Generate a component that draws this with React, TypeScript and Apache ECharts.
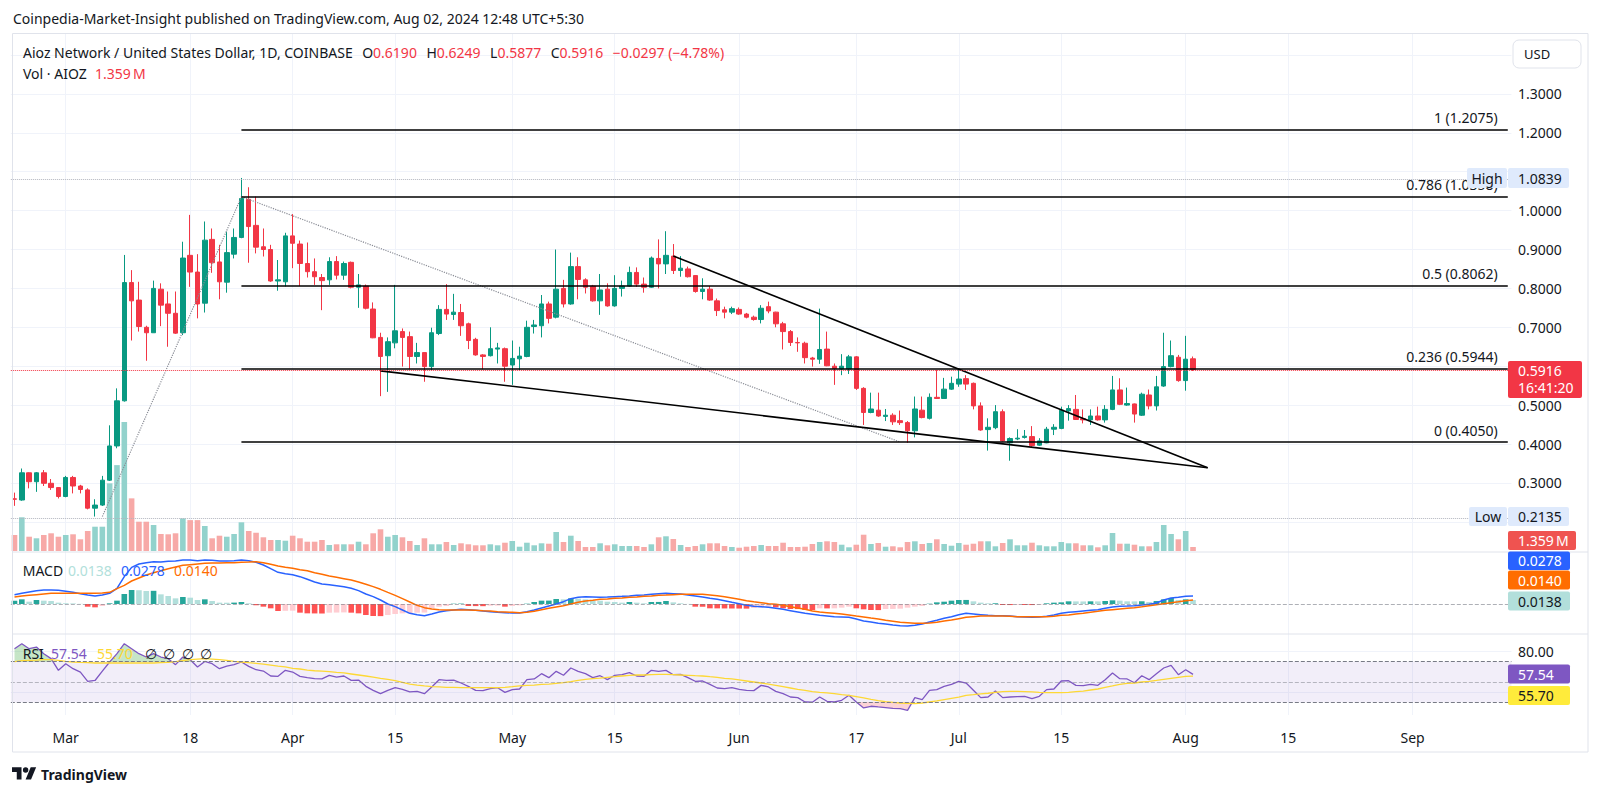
import React, { useEffect, useRef } from "react";
import * as echarts from "echarts";

const FONT = '"Noto Sans", "DejaVu Sans", sans-serif';
const INK = "#131722";
const UP = "#089981";
const DOWN = "#f23645";
const VOL_UP = "#92d2cc";
const VOL_DOWN = "#f7a9a7";

// ---------- time axis ----------
const START_UTC = Date.UTC(2024, 1, 23); // first candle: 2024-02-23
const N_SLOTS = 205; // visible day slots (candles + empty right margin)
const TICK_DATES = ["2024-03-01", "2024-03-18", "2024-04-01", "2024-04-15", "2024-05-01", "2024-05-15", "2024-06-01", "2024-06-17", "2024-07-01", "2024-07-15", "2024-08-01", "2024-08-15", "2024-09-01"];
const TICK_LABELS = ["Mar", "18", "Apr", "15", "May", "15", "Jun", "17", "Jul", "15", "Aug", "15", "Sep"];

// ---------- price data (AIOZ/USD daily) ----------
const OPEN = [0.259,0.256,0.326,0.303,0.326,0.299,0.288,0.265,0.314,0.292,
0.282,0.235,0.243,0.307,0.395,0.511,0.815,0.770,0.700,0.686,
0.798,0.760,0.736,0.686,0.885,0.842,0.762,0.926,0.868,0.816,
0.888,0.931,1.029,0.962,0.907,0.900,0.819,0.817,0.935,0.914,
0.864,0.843,0.828,0.822,0.869,0.834,0.867,0.803,0.806,0.747,
0.674,0.627,0.660,0.689,0.676,0.625,0.635,0.599,0.684,0.746,
0.733,0.738,0.709,0.669,0.629,0.627,0.644,0.645,0.603,0.619,
0.625,0.702,0.704,0.760,0.726,0.800,0.760,0.856,0.822,0.806,
0.768,0.798,0.755,0.800,0.806,0.841,0.811,0.803,0.877,0.863,
0.883,0.846,0.850,0.833,0.792,0.798,0.768,0.745,0.739,0.746,
0.734,0.726,0.720,0.753,0.739,0.709,0.689,0.661,0.659,0.621,
0.618,0.644,0.600,0.593,0.593,0.624,0.543,0.481,0.487,0.471,
0.474,0.460,0.455,0.434,0.487,0.466,0.520,0.517,0.541,0.554,
0.568,0.556,0.498,0.437,0.442,0.483,0.403,0.413,0.417,0.419,
0.397,0.403,0.438,0.440,0.485,0.489,0.465,0.462,0.472,0.462,
0.489,0.539,0.500,0.503,0.474,0.526,0.498,0.549,0.599,0.623,
0.563,0.6190];
const HIGH = [0.275,0.337,0.327,0.328,0.333,0.310,0.289,0.318,0.318,0.295,
0.286,0.258,0.318,0.448,0.543,0.886,0.847,0.817,0.704,0.820,
0.813,0.792,0.792,0.920,0.989,0.888,0.972,0.954,0.912,0.946,
0.954,1.0839,1.060,1.036,0.954,0.912,0.873,0.943,0.991,0.923,
0.918,0.877,0.837,0.880,0.883,0.869,0.869,0.837,0.810,0.764,
0.686,0.674,0.809,0.697,0.689,0.660,0.635,0.699,0.757,0.811,
0.786,0.760,0.712,0.673,0.631,0.700,0.660,0.648,0.666,0.650,
0.717,0.719,0.783,0.766,0.900,0.822,0.892,0.880,0.826,0.809,
0.837,0.813,0.834,0.820,0.856,0.854,0.828,0.882,0.926,0.947,
0.914,0.883,0.856,0.834,0.826,0.806,0.774,0.753,0.753,0.751,
0.737,0.730,0.757,0.766,0.740,0.714,0.693,0.674,0.663,0.624,
0.748,0.689,0.607,0.631,0.629,0.626,0.546,0.532,0.532,0.490,
0.479,0.486,0.459,0.522,0.522,0.530,0.590,0.570,0.573,0.594,
0.577,0.558,0.507,0.466,0.500,0.489,0.417,0.438,0.436,0.446,
0.415,0.444,0.451,0.496,0.500,0.526,0.489,0.489,0.496,0.500,
0.575,0.569,0.545,0.504,0.532,0.540,0.575,0.686,0.666,0.629,
0.678,0.6249];
const LOW = [0.241,0.254,0.286,0.277,0.292,0.282,0.260,0.263,0.273,0.273,
0.232,0.2135,0.2406,0.305,0.389,0.509,0.666,0.689,0.614,0.686,
0.703,0.650,0.683,0.680,0.804,0.723,0.738,0.840,0.772,0.789,
0.877,0.929,0.866,0.890,0.882,0.817,0.794,0.805,0.852,0.806,
0.828,0.809,0.744,0.809,0.823,0.822,0.800,0.750,0.746,0.672,
0.523,0.534,0.646,0.599,0.592,0.607,0.560,0.590,0.680,0.719,
0.719,0.678,0.644,0.627,0.592,0.625,0.607,0.560,0.552,0.590,
0.623,0.684,0.674,0.710,0.723,0.751,0.758,0.772,0.787,0.766,
0.732,0.753,0.753,0.779,0.804,0.804,0.789,0.801,0.800,0.837,
0.837,0.830,0.828,0.789,0.772,0.768,0.729,0.723,0.734,0.732,
0.723,0.717,0.710,0.736,0.700,0.643,0.652,0.637,0.607,0.599,
0.606,0.600,0.552,0.577,0.580,0.539,0.449,0.479,0.470,0.459,
0.449,0.449,0.403,0.417,0.466,0.463,0.516,0.516,0.539,0.547,
0.539,0.489,0.434,0.383,0.438,0.406,0.357,0.410,0.414,0.393,
0.395,0.402,0.423,0.438,0.460,0.462,0.453,0.449,0.460,0.455,
0.487,0.500,0.498,0.455,0.472,0.489,0.486,0.547,0.597,0.560,
0.537,0.5877];
const CLOSE = [0.258,0.326,0.303,0.326,0.299,0.288,0.265,0.314,0.292,0.283,
0.235,0.243,0.307,0.395,0.511,0.815,0.768,0.702,0.686,0.800,
0.757,0.736,0.685,0.878,0.842,0.760,0.924,0.866,0.817,0.892,
0.931,1.031,0.959,0.906,0.900,0.819,0.822,0.935,0.916,0.864,
0.843,0.830,0.820,0.869,0.834,0.864,0.803,0.809,0.749,0.673,
0.625,0.663,0.691,0.674,0.625,0.635,0.599,0.686,0.746,0.734,
0.739,0.704,0.666,0.629,0.625,0.645,0.647,0.600,0.620,0.626,
0.700,0.706,0.760,0.723,0.798,0.760,0.856,0.823,0.803,0.768,
0.796,0.755,0.800,0.806,0.841,0.811,0.803,0.878,0.863,0.885,
0.846,0.852,0.830,0.792,0.798,0.770,0.743,0.739,0.748,0.734,
0.726,0.720,0.749,0.742,0.709,0.689,0.661,0.660,0.622,0.618,
0.643,0.601,0.594,0.600,0.624,0.543,0.481,0.490,0.472,0.474,
0.457,0.455,0.434,0.490,0.468,0.520,0.517,0.541,0.556,0.567,
0.554,0.498,0.436,0.443,0.483,0.408,0.414,0.415,0.420,0.396,
0.408,0.438,0.443,0.487,0.491,0.463,0.462,0.472,0.462,0.489,
0.539,0.502,0.504,0.477,0.528,0.498,0.547,0.599,0.627,0.563,
0.618,0.5916];
// volume in millions of AIOZ
const VOLUME_M = [5.44,11.46,4.86,4.32,5.44,6.02,4.86,5.44,5.68,3.98,
6.80,8.26,8.26,23.0,29.2,43.9,17.9,9.96,9.96,8.84,
5.78,5.68,6.02,11.1,10.5,10.5,8.50,4.32,5.20,4.86,
5.78,9.76,6.80,6.22,4.66,3.74,3.74,3.50,5.20,4.32,
3.16,3.16,3.74,2.04,2.28,2.28,2.28,3.16,2.28,6.02,
7.38,4.86,5.44,4.66,3.40,2.04,4.32,2.28,2.28,3.06,
2.04,2.62,2.28,1.94,1.94,2.28,1.94,2.82,3.40,1.46,
2.82,1.94,2.62,2.48,6.46,3.06,5.20,3.40,1.36,1.36,
2.62,1.94,2.28,1.70,1.70,1.70,1.36,2.28,4.66,5.00,
4.08,2.04,1.36,1.70,2.28,2.62,2.62,1.70,1.36,1.12,
1.46,1.70,2.04,1.70,1.70,2.82,1.36,1.36,1.46,2.38,
3.06,3.30,3.06,2.14,1.26,2.14,5.54,2.38,2.72,1.46,
1.60,1.26,3.06,3.30,2.38,2.72,3.98,2.38,1.80,2.72,
2.14,2.48,3.30,3.30,1.60,2.72,3.98,1.94,1.94,2.82,
1.94,1.60,1.60,3.06,2.62,2.62,1.94,1.94,1.26,1.94,
6.12,2.48,2.48,2.14,1.60,1.60,3.06,8.84,5.78,3.98,
6.80,1.359];

// ---------- MACD (12, 26, 9) ----------
const MACD_LINE = [0.0322,0.0368,0.0414,0.0460,0.0483,0.0483,0.0471,0.0437,0.0402,0.0356,
0.0310,0.0276,0.0310,0.0368,0.0540,0.0943,0.1264,0.1379,0.1425,0.1460,
0.1448,0.1471,0.1483,0.1517,0.1517,0.1494,0.1517,0.1506,0.1483,0.1483,
0.1494,0.1517,0.1494,0.1437,0.1345,0.1218,0.1092,0.1046,0.1011,0.0943,
0.0851,0.0759,0.0690,0.0667,0.0632,0.0598,0.0540,0.0460,0.0345,0.0253,
0.0138,0.0000,-0.0092,-0.0207,-0.0322,-0.0368,-0.0402,-0.0345,-0.0276,-0.0230,
-0.0207,-0.0184,-0.0195,-0.0218,-0.0241,-0.0264,-0.0287,-0.0299,-0.0310,-0.0310,
-0.0264,-0.0207,-0.0138,-0.0069,0.0000,0.0080,0.0184,0.0230,0.0253,0.0241,
0.0230,0.0241,0.0253,0.0264,0.0276,0.0299,0.0310,0.0333,0.0356,0.0368,
0.0356,0.0345,0.0310,0.0276,0.0241,0.0195,0.0161,0.0115,0.0057,0.0011,
-0.0046,-0.0080,-0.0092,-0.0115,-0.0149,-0.0184,-0.0230,-0.0276,-0.0322,-0.0356,
-0.0391,-0.0414,-0.0437,-0.0448,-0.0460,-0.0517,-0.0586,-0.0621,-0.0667,-0.0690,
-0.0724,-0.0747,-0.0759,-0.0736,-0.0690,-0.0621,-0.0563,-0.0494,-0.0437,-0.0368,
-0.0322,-0.0345,-0.0368,-0.0391,-0.0402,-0.0402,-0.0414,-0.0437,-0.0448,-0.0460,
-0.0448,-0.0425,-0.0379,-0.0322,-0.0287,-0.0264,-0.0241,-0.0218,-0.0195,-0.0149,
-0.0103,-0.0080,-0.0069,-0.0057,-0.0034,-0.0011,0.0034,0.0138,0.0207,0.0230,
0.0264,0.0278];
const MACD_SIGNAL = [0.0241,0.0276,0.0299,0.0322,0.0345,0.0368,0.0368,0.0368,0.0368,0.0368,
0.0368,0.0368,0.0379,0.0402,0.0529,0.0644,0.0793,0.0897,0.1000,0.1080,
0.1149,0.1218,0.1276,0.1333,0.1356,0.1379,0.1402,0.1414,0.1414,0.1425,
0.1425,0.1437,0.1448,0.1460,0.1425,0.1368,0.1310,0.1264,0.1230,0.1184,
0.1149,0.1080,0.1023,0.0966,0.0920,0.0874,0.0828,0.0759,0.0678,0.0598,
0.0506,0.0402,0.0299,0.0184,0.0069,-0.0046,-0.0126,-0.0172,-0.0195,-0.0207,
-0.0207,-0.0207,-0.0207,-0.0218,-0.0230,-0.0241,-0.0264,-0.0276,-0.0287,-0.0299,
-0.0287,-0.0253,-0.0195,-0.0149,-0.0103,-0.0057,0.0000,0.0057,0.0103,0.0126,
0.0161,0.0172,0.0195,0.0207,0.0230,0.0241,0.0264,0.0276,0.0299,0.0310,
0.0322,0.0333,0.0333,0.0333,0.0333,0.0310,0.0287,0.0253,0.0207,0.0161,
0.0115,0.0080,0.0046,0.0011,-0.0011,-0.0046,-0.0092,-0.0138,-0.0184,-0.0241,
-0.0276,-0.0299,-0.0322,-0.0345,-0.0379,-0.0414,-0.0448,-0.0483,-0.0517,-0.0563,
-0.0598,-0.0632,-0.0644,-0.0667,-0.0667,-0.0655,-0.0632,-0.0586,-0.0552,-0.0506,
-0.0460,-0.0437,-0.0414,-0.0414,-0.0414,-0.0414,-0.0425,-0.0437,-0.0437,-0.0437,
-0.0437,-0.0437,-0.0425,-0.0391,-0.0379,-0.0345,-0.0322,-0.0287,-0.0253,-0.0218,
-0.0195,-0.0172,-0.0149,-0.0126,-0.0092,-0.0057,-0.0023,0.0011,0.0046,0.0080,
0.0115,0.0140];
const MACD_HIST = [0.0115,0.0161,0.0080,0.0138,0.0115,0.0103,0.0046,0.0023,0.0020,0.0005,
-0.0092,-0.0115,-0.0069,0.0023,0.0115,0.0345,0.0483,0.0475,0.0448,0.0455,
0.0333,0.0276,0.0195,0.0241,0.0218,0.0138,0.0161,0.0103,0.0046,0.0044,
0.0048,0.0069,0.0023,-0.0046,-0.0092,-0.0149,-0.0241,-0.0235,-0.0230,-0.0299,
-0.0322,-0.0325,-0.0328,-0.0299,-0.0295,-0.0290,-0.0299,-0.0322,-0.0379,-0.0414,
-0.0418,-0.0379,-0.0345,-0.0322,-0.0320,-0.0299,-0.0295,-0.0149,-0.0092,-0.0069,
0.0011,0.0015,-0.0069,-0.0072,-0.0075,-0.0057,-0.0055,-0.0092,-0.0069,-0.0046,
0.0011,0.0069,0.0115,0.0117,0.0172,0.0161,0.0195,0.0184,0.0161,0.0115,
0.0113,0.0080,0.0069,0.0046,0.0069,0.0046,0.0023,0.0069,0.0071,0.0103,
0.0057,0.0023,0.0003,-0.0092,-0.0095,-0.0149,-0.0151,-0.0153,-0.0155,-0.0157,
-0.0160,-0.0138,-0.0115,-0.0092,-0.0115,-0.0149,-0.0172,-0.0175,-0.0207,-0.0209,
-0.0149,-0.0152,-0.0149,-0.0126,-0.0092,-0.0149,-0.0184,-0.0207,-0.0210,-0.0172,
-0.0170,-0.0161,-0.0126,-0.0092,-0.0069,0.0011,0.0057,0.0080,0.0115,0.0138,
0.0140,0.0092,0.0046,0.0023,0.0025,-0.0034,-0.0036,-0.0023,-0.0034,-0.0036,
-0.0023,0.0023,0.0046,0.0057,0.0092,0.0090,0.0088,0.0092,0.0090,0.0103,
0.0126,0.0115,0.0092,0.0090,0.0094,0.0069,0.0103,0.0161,0.0207,0.0138,
0.0161,0.0138];

// ---------- RSI (14) and its moving average ----------
const RSI = [82.8,87.7,82.8,84.4,77.9,73.0,61.5,68.0,63.1,59.8,
50.7,51.5,60.8,69.7,77.9,87.7,82.8,77.9,74.6,77.9,
74.6,73.0,67.1,74.6,72.0,64.8,70.3,68.0,63.1,65.7,
67.1,69.7,65.4,62.1,60.8,55.9,55.6,61.5,59.8,55.6,
54.3,53.3,53.0,56.6,54.9,55.9,51.6,51.9,45.7,41.8,
38.5,41.8,44.4,42.8,40.2,40.8,38.5,45.1,52.3,51.6,
51.8,49.0,45.7,41.8,41.5,43.4,44.4,39.8,42.5,43.1,
52.3,53.0,58.2,54.3,60.5,56.6,63.8,60.5,58.2,54.3,
56.2,52.3,56.6,57.2,59.2,55.9,55.6,61.5,60.5,61.5,
57.2,57.5,54.3,50.7,51.0,47.7,44.1,43.4,44.4,42.8,
41.8,41.5,46.7,45.1,40.8,38.5,35.2,34.6,30.3,30.1,
35.2,31.0,30.3,32.0,36.9,30.3,24.4,26.1,25.4,24.8,
24.1,23.8,22.1,34.6,32.6,41.8,42.5,45.7,47.7,50.7,
49.0,41.8,34.6,35.2,41.1,34.6,35.2,35.6,35.9,33.6,
35.9,42.5,43.1,51.0,51.3,46.7,46.5,47.7,46.7,52.3,
58.9,53.3,53.0,49.3,56.2,52.3,58.2,63.8,66.4,57.2,
62.1,57.54];
const RSI_MA = [70.0,71.0,71.3,71.6,72.0,72.0,71.3,70.3,69.7,69.3,
69.0,68.7,68.7,68.7,68.7,68.7,68.7,68.7,68.7,68.7,
69.0,69.3,70.0,71.0,72.0,72.6,73.0,72.6,72.0,71.3,
70.3,69.7,69.0,68.4,67.7,66.7,65.7,64.8,63.4,62.8,
61.8,61.1,60.8,60.2,59.5,58.9,57.9,56.9,55.9,54.9,
53.6,52.6,51.3,49.7,48.0,47.0,46.1,45.4,45.1,44.8,
44.8,44.4,44.4,44.4,44.4,44.4,44.4,44.8,45.4,46.1,
46.7,47.0,47.7,48.0,48.7,49.3,50.3,51.6,52.6,53.3,
53.9,54.6,55.2,55.9,56.6,56.9,56.9,57.2,57.5,57.5,
57.2,56.9,56.6,56.2,55.9,55.2,54.6,53.6,53.0,52.0,
51.0,50.0,49.0,48.0,46.7,45.4,44.1,42.8,41.8,40.5,
39.8,39.2,38.5,37.5,36.9,35.6,34.3,32.9,31.6,30.6,
30.0,29.3,29.0,28.7,29.3,30.3,31.3,32.6,33.9,35.2,
36.9,37.5,38.2,38.9,39.8,40.5,40.8,40.8,40.5,40.2,
39.8,39.5,39.5,39.5,39.8,40.5,41.1,42.1,43.1,44.8,
46.1,47.7,48.7,49.0,50.0,50.7,51.6,52.6,53.6,54.6,
55.6,55.70];

// ---------- drawings ----------
const FIB_LEVELS = [0, 0.236, 0.5, 0.786, 1];
const FIB_PRICES = [0.405, 0.5944, 0.8062, 1.0358, 1.2075];
const FIB_FROM_INDEX = 31; // 2024-03-25
const WEDGE_UPPER = [[90, 0.8833], [162.5, 0.3388]];
const WEDGE_LOWER = [[50, 0.588], [162.5, 0.3388]];
const DOTTED_UP = [[11.5, 0.2135], [31, 1.0358]];
const DOTTED_DOWN = [[31, 1.0358], [121.4, 0.405]];
const HIGH_PRICE = 1.0839;
const LOW_PRICE = 0.2135;
const LAST_PRICE = 0.5916;
const CHANGE_TEXT = "\u22120.0297 (\u22124.78%)";
const HIDDEN_PRICE_TICKS = [0.6, 1.1]; // covered by the price tags

const TV_LOGO_D = "M14 22H7V11H0V4h14v18zM28 22h-8l7.5-18h8L28 22zM24 8a4 4 0 1 1-8 0a4 4 0 0 1 8 0z";
echarts.graphic.registerShape("tvlogo", echarts.graphic.extendPath(TV_LOGO_D, {}));

const DATES = Array.from({ length: N_SLOTS }, (_, i) =>
  new Date(START_UTC + i * 86400000).toISOString().slice(0, 10)
);

const RICH = {
  d: { fill: INK, fontSize: 14, fontFamily: FONT },
  r: { fill: DOWN, fontSize: 14, fontFamily: FONT },
  s: { fill: INK, fontSize: 14, fontFamily: FONT, width: 9.5 },
};

function txt(x: number, y: number, text: string, fill: string, extra: any = {}) {
  return {
    type: "text",
    x,
    y,
    z: 100,
    silent: true,
    style: { text, fill, fontSize: 14, fontFamily: FONT, verticalAlign: "middle", align: "left", ...extra },
  };
}
function rich(x: number, y: number, text: string) {
  return {
    type: "text",
    x,
    y,
    z: 100,
    silent: true,
    style: { text, fill: INK, fontSize: 14, fontFamily: FONT, verticalAlign: "middle", align: "left", rich: RICH },
  };
}
function rect(x: number, y: number, w: number, h: number, fill: string, extra: any = {}) {
  return { type: "rect", z: 99, silent: true, shape: { x, y, width: w, height: h, r: extra.r ?? 2 }, style: { fill, ...(extra.style || {}) } };
}

function buildOption(): any {
  const tickIdx = TICK_DATES.map((d) => DATES.indexOf(d));
  const isTick = (i: number) => tickIdx.indexOf(i) >= 0;
  const GL = 10.84;
  const GW = N_SLOTS * 7.32;
  const last = (a: number[]) => a[a.length - 1];

  const hiddenX = (gi: number) => ({ type: "category", gridIndex: gi, data: DATES, boundaryGap: true, show: false });

  const candleData = OPEN.map((o, i) => [o, CLOSE[i], LOW[i], HIGH[i]]);
  const volData = VOLUME_M.map((v, i) => ({ value: v, itemStyle: { color: CLOSE[i] >= OPEN[i] ? VOL_UP : VOL_DOWN } }));
  const histData = MACD_HIST.map((v, i) => {
    const p = i > 0 ? MACD_HIST[i - 1] : 0;
    let c;
    if (v >= 0) c = v >= p ? "#26a69a" : "#b2dfdb";
    else c = v <= p ? "#ff5252" : "#ffcdd2";
    return { value: v, itemStyle: { color: c } };
  });

  const seg = (pts: number[][], lineStyle: any) => [
    { coord: pts[0], lineStyle, label: { show: false } },
    { coord: pts[1] },
  ];

  const fibLines = FIB_PRICES.map((p, k) => [
    {
      coord: [FIB_FROM_INDEX, p],
      lineStyle: { color: "#000000", width: 1.6, type: "solid" },
      label: {
        show: true,
        position: "insideEndTop",
        distance: [10, 5],
        formatter: `${FIB_LEVELS[k]} (${p.toFixed(4)})`,
        color: INK,
        fontSize: 14,
        fontFamily: FONT,
      },
    },
    { coord: [N_SLOTS - 1, p] },
  ]);

  const mainSplitColors = Array.from({ length: 14 }, (_, k) => (k === 0 ? "rgba(0,0,0,0)" : "#f0f3fa"));

  const legendLine =
    "{d|Aioz Network / United States Dollar, 1D, COINBASE}{s| }" +
    `{d|O}{r|${last(OPEN).toFixed(4)}}{s| }` +
    `{d|H}{r|${last(HIGH).toFixed(4)}}{s| }` +
    `{d|L}{r|${last(LOW).toFixed(4)}}{s| }` +
    `{d|C}{r|${last(CLOSE).toFixed(4)}}{s| }` +
    `{r|${CHANGE_TEXT}}`;

  const graphics: any[] = [
    // frame and pane separators
    { type: "rect", z: 98, silent: true, shape: { x: 12.5, y: 33.5, width: 1575.5, height: 718.5 }, style: { fill: "none", stroke: "#e0e3eb", lineWidth: 1 } },
    { type: "line", z: 98, silent: true, shape: { x1: 12.5, y1: 552, x2: 1588, y2: 552 }, style: { stroke: "#e0e3eb", lineWidth: 1 } },
    { type: "line", z: 98, silent: true, shape: { x1: 12.5, y1: 634, x2: 1588, y2: 634 }, style: { stroke: "#e0e3eb", lineWidth: 1 } },
    // header
    txt(13, 18.3, "Coinpedia-Market-Insight published on TradingView.com, Aug 02, 2024 12:48 UTC+5:30", INK),
    // main legend
    rich(23, 52.3, legendLine),
    txt(23, 73.3, "Vol \u00b7 AIOZ", INK), txt(95, 73.3, "1.359\u2009M", DOWN),
    // MACD legend
    txt(22.7, 570, "MACD", INK),
    txt(68, 570, last(MACD_HIST).toFixed(4), "#b2dfdb"),
    txt(121, 570, last(MACD_LINE).toFixed(4), "#2962ff"),
    txt(174, 570, last(MACD_SIGNAL).toFixed(4), "#ff6d00"),
    // RSI legend
    txt(22.7, 653, "RSI", INK),
    txt(51, 653, last(RSI).toFixed(2), "#7e57c2"),
    txt(97, 653, last(RSI_MA).toFixed(2), "#fdd835"),
    txt(145, 653, "\u2205", INK), txt(163, 653, "\u2205", INK), txt(182, 653, "\u2205", INK), txt(200, 653, "\u2205", INK),
    // USD box
    rect(1513, 40, 68, 28, "#ffffff", { r: 6, style: { stroke: "#e0e3eb", lineWidth: 1 } }),
    txt(1524, 54, "USD", INK, { fontSize: 13 }),
    // High / Low tags
    rect(1467, 168, 40, 20, "#dfeafc"), txt(1487, 178, "High", INK, { align: "center" }),
    rect(1508, 168, 61, 20, "#dfeafc"), txt(1518, 178, HIGH_PRICE.toFixed(4), INK),
    rect(1469, 507, 38, 19, "#dfeafc"), txt(1488, 516.5, "Low", INK, { align: "center" }),
    rect(1508, 507, 61, 19, "#dfeafc"), txt(1518, 516.5, LOW_PRICE.toFixed(4), INK),
    // last price tag
    rect(1508, 361, 74, 37, DOWN), txt(1518, 370.5, LAST_PRICE.toFixed(4), "#ffffff"), txt(1518, 387.5, "16:41:20", "#ffffff"),
    // volume tag
    rect(1508, 531, 68, 19, "#ef5350"), txt(1518, 540.5, "1.359\u2009M", "#ffffff"),
    // MACD tags
    rect(1508, 551.5, 62, 18.5, "#2962ff"), txt(1518, 560.7, last(MACD_LINE).toFixed(4), "#ffffff"),
    rect(1508, 570.5, 62, 19, "#ff6d00"), txt(1518, 580, last(MACD_SIGNAL).toFixed(4), "#ffffff"),
    rect(1508, 591.5, 62, 19, "#b2dfdb"), txt(1518, 601, last(MACD_HIST).toFixed(4), INK),
    // RSI tags
    rect(1508, 664.5, 62, 19, "#7e57c2"), txt(1518, 674, last(RSI).toFixed(2), "#ffffff"),
    rect(1508, 686, 62, 19, "#ffeb3b"), txt(1518, 695.5, last(RSI_MA).toFixed(2), INK),
    // TradingView logo
    { type: "tvlogo", x: 12, y: 764.5, scaleX: 0.68, scaleY: 0.68, z: 100, silent: true, style: { fill: INK } },
    txt(41, 774, "TradingView", INK, { fontWeight: "bold", fontSize: 14 }),
  ];

  return {
    animation: false,
    backgroundColor: "#ffffff",
    textStyle: { fontFamily: FONT },
    grid: [
      { left: GL, width: GW, top: 55, height: 505.7 }, // price 0.1 .. 1.4
      { left: GL, width: GW, top: 411, height: 140 }, // volume
      { left: GL, width: GW, top: 552, height: 82 }, // MACD
      { left: GL, width: GW, top: 610.95, height: 121.8 }, // RSI 0 .. 120
      { left: GL, width: GW, top: 33, height: 682 }, // background (time axis)
    ],
    xAxis: [
      hiddenX(0),
      hiddenX(1),
      hiddenX(2),
      hiddenX(3),
      {
        type: "category",
        gridIndex: 4,
        data: DATES,
        boundaryGap: true,
        axisLine: { show: false },
        axisTick: { show: false },
        axisLabel: {
          interval: (i: number) => isTick(i),
          formatter: (_v: string, i: number) => {
            const k = tickIdx.indexOf(i);
            return k >= 0 ? TICK_LABELS[k] : "";
          },
          color: INK,
          fontSize: 14,
          fontFamily: FONT,
          margin: 15,
        },
        splitLine: {
          show: true,
          interval: (i: number) => isTick(i),
          alignWithLabel: true,
          lineStyle: { color: "#f0f3fa", width: 1 },
        },
      },
    ],
    yAxis: [
      {
        type: "value",
        gridIndex: 0,
        position: "right",
        min: 0.1,
        max: 1.4,
        interval: 0.1,
        axisLine: { show: false },
        axisTick: { show: false },
        axisLabel: {
          formatter: (v: number) => {
            if (!(v > 0.25 && v < 1.35)) return "";
            if (HIDDEN_PRICE_TICKS.some((h) => Math.abs(h - v) < 1e-6)) return "";
            return v.toFixed(4);
          },
          color: INK,
          fontSize: 14,
          fontFamily: FONT,
          margin: 6.6,
        },
        splitLine: { show: true, lineStyle: { color: mainSplitColors, width: 1 } },
      },
      { type: "value", gridIndex: 1, min: 0, max: 47.6, show: false },
      { type: "value", gridIndex: 2, min: -0.10345, max: 0.17931, show: false },
      {
        type: "value",
        gridIndex: 3,
        position: "right",
        min: 0,
        max: 120,
        interval: 40,
        axisLine: { show: false },
        axisTick: { show: false },
        axisLabel: {
          formatter: (v: number) => (v === 80 ? "80.00" : ""),
          color: INK,
          fontSize: 14,
          fontFamily: FONT,
          margin: 6.6,
        },
        splitLine: { show: true, lineStyle: { color: ["rgba(0,0,0,0)", "#f0f3fa", "#f0f3fa", "rgba(0,0,0,0)"], width: 1 } },
      },
      { type: "value", gridIndex: 4, show: false },
    ],
    visualMap: [
      {
        type: "piecewise",
        show: false,
        seriesIndex: 5,
        dimension: 1,
        pieces: [
          { gt: 70, color: "rgba(76,175,80,0.32)" },
          { gte: 30, lte: 70, color: "rgba(0,0,0,0)" },
          { lt: 30, color: "rgba(242,54,69,0.22)" },
        ],
      },
    ],
    series: [
      {
        name: "Volume",
        type: "bar",
        xAxisIndex: 1,
        yAxisIndex: 1,
        barWidth: 5.6,
        silent: true,
        data: volData,
      },
      {
        name: "AIOZUSD",
        type: "candlestick",
        xAxisIndex: 0,
        yAxisIndex: 0,
        barWidth: 5,
        silent: true,
        itemStyle: { color: UP, color0: DOWN, borderColor: UP, borderColor0: DOWN, borderWidth: 1 },
        data: candleData,
        markLine: {
          silent: true,
          symbol: ["none", "none"],
          animation: false,
          label: { show: false },
          emphasis: { disabled: true },
          data: [
            { yAxis: HIGH_PRICE, lineStyle: { color: "#b2b5be", type: "dotted", width: 1 } },
            { yAxis: LOW_PRICE, lineStyle: { color: "#b2b5be", type: "dotted", width: 1 } },
            seg(DOTTED_UP, { color: "#8a8d96", type: "dotted", width: 1.2 }),
            seg(DOTTED_DOWN, { color: "#8a8d96", type: "dotted", width: 1.2 }),
            ...fibLines,
            seg(WEDGE_UPPER, { color: "#000000", type: "solid", width: 1.6 }),
            seg(WEDGE_LOWER, { color: "#000000", type: "solid", width: 1.6 }),
            { yAxis: LAST_PRICE, lineStyle: { color: DOWN, type: "dotted", width: 1 } },
          ],
        },
      },
      {
        name: "Histogram",
        type: "bar",
        xAxisIndex: 2,
        yAxisIndex: 2,
        barWidth: 5.6,
        silent: true,
        data: histData,
        markLine: {
          silent: true,
          symbol: ["none", "none"],
          label: { show: false },
          data: [{ yAxis: 0, lineStyle: { color: "rgba(120,123,134,0.6)", type: "dashed", width: 1 } }],
        },
      },
      {
        name: "MACD",
        type: "line",
        xAxisIndex: 2,
        yAxisIndex: 2,
        showSymbol: false,
        silent: true,
        lineStyle: { color: "#2962ff", width: 1.5 },
        data: MACD_LINE,
      },
      {
        name: "Signal",
        type: "line",
        xAxisIndex: 2,
        yAxisIndex: 2,
        showSymbol: false,
        silent: true,
        lineStyle: { color: "#ff6d00", width: 1.5 },
        data: MACD_SIGNAL,
      },
      {
        name: "RSI zones",
        type: "line",
        xAxisIndex: 3,
        yAxisIndex: 3,
        showSymbol: false,
        silent: true,
        lineStyle: { width: 0, opacity: 0 },
        areaStyle: { origin: 50, opacity: 1 },
        data: RSI.map((v, i) => [i, v]),
        markArea: {
          silent: true,
          itemStyle: { color: "rgba(126,87,194,0.1)" },
          data: [[{ yAxis: 30 }, { yAxis: 70 }]],
        },
        markLine: {
          silent: true,
          symbol: ["none", "none"],
          label: { show: false },
          data: [
            { yAxis: 70, lineStyle: { color: "#787b86", type: "dashed", width: 1 } },
            { yAxis: 50, lineStyle: { color: "rgba(120,123,134,0.5)", type: "dashed", width: 1 } },
            { yAxis: 30, lineStyle: { color: "#787b86", type: "dashed", width: 1 } },
          ],
        },
      },
      {
        name: "RSI",
        type: "line",
        xAxisIndex: 3,
        yAxisIndex: 3,
        showSymbol: false,
        silent: true,
        lineStyle: { color: "#7e57c2", width: 1.3 },
        data: RSI,
      },
      {
        name: "RSI MA",
        type: "line",
        xAxisIndex: 3,
        yAxisIndex: 3,
        showSymbol: false,
        silent: true,
        lineStyle: { color: "#fdd835", width: 1.3 },
        data: RSI_MA,
      },
      { name: "bg", type: "line", xAxisIndex: 4, yAxisIndex: 4, data: [], silent: true },
    ],
    graphic: graphics,
  };
}

export default function App() {
  const ref = useRef<HTMLDivElement>(null);
  useEffect(() => {
    if (!ref.current) return;
    const chart = echarts.init(ref.current, null, { renderer: "svg" });
    chart.setOption(buildOption());
    return () => chart.dispose();
  }, []);
  return (
    <div
      ref={ref}
      style={{ position: "absolute", left: 0, top: 0, width: 1600, height: 795, background: "#ffffff" }}
    />
  );
}
